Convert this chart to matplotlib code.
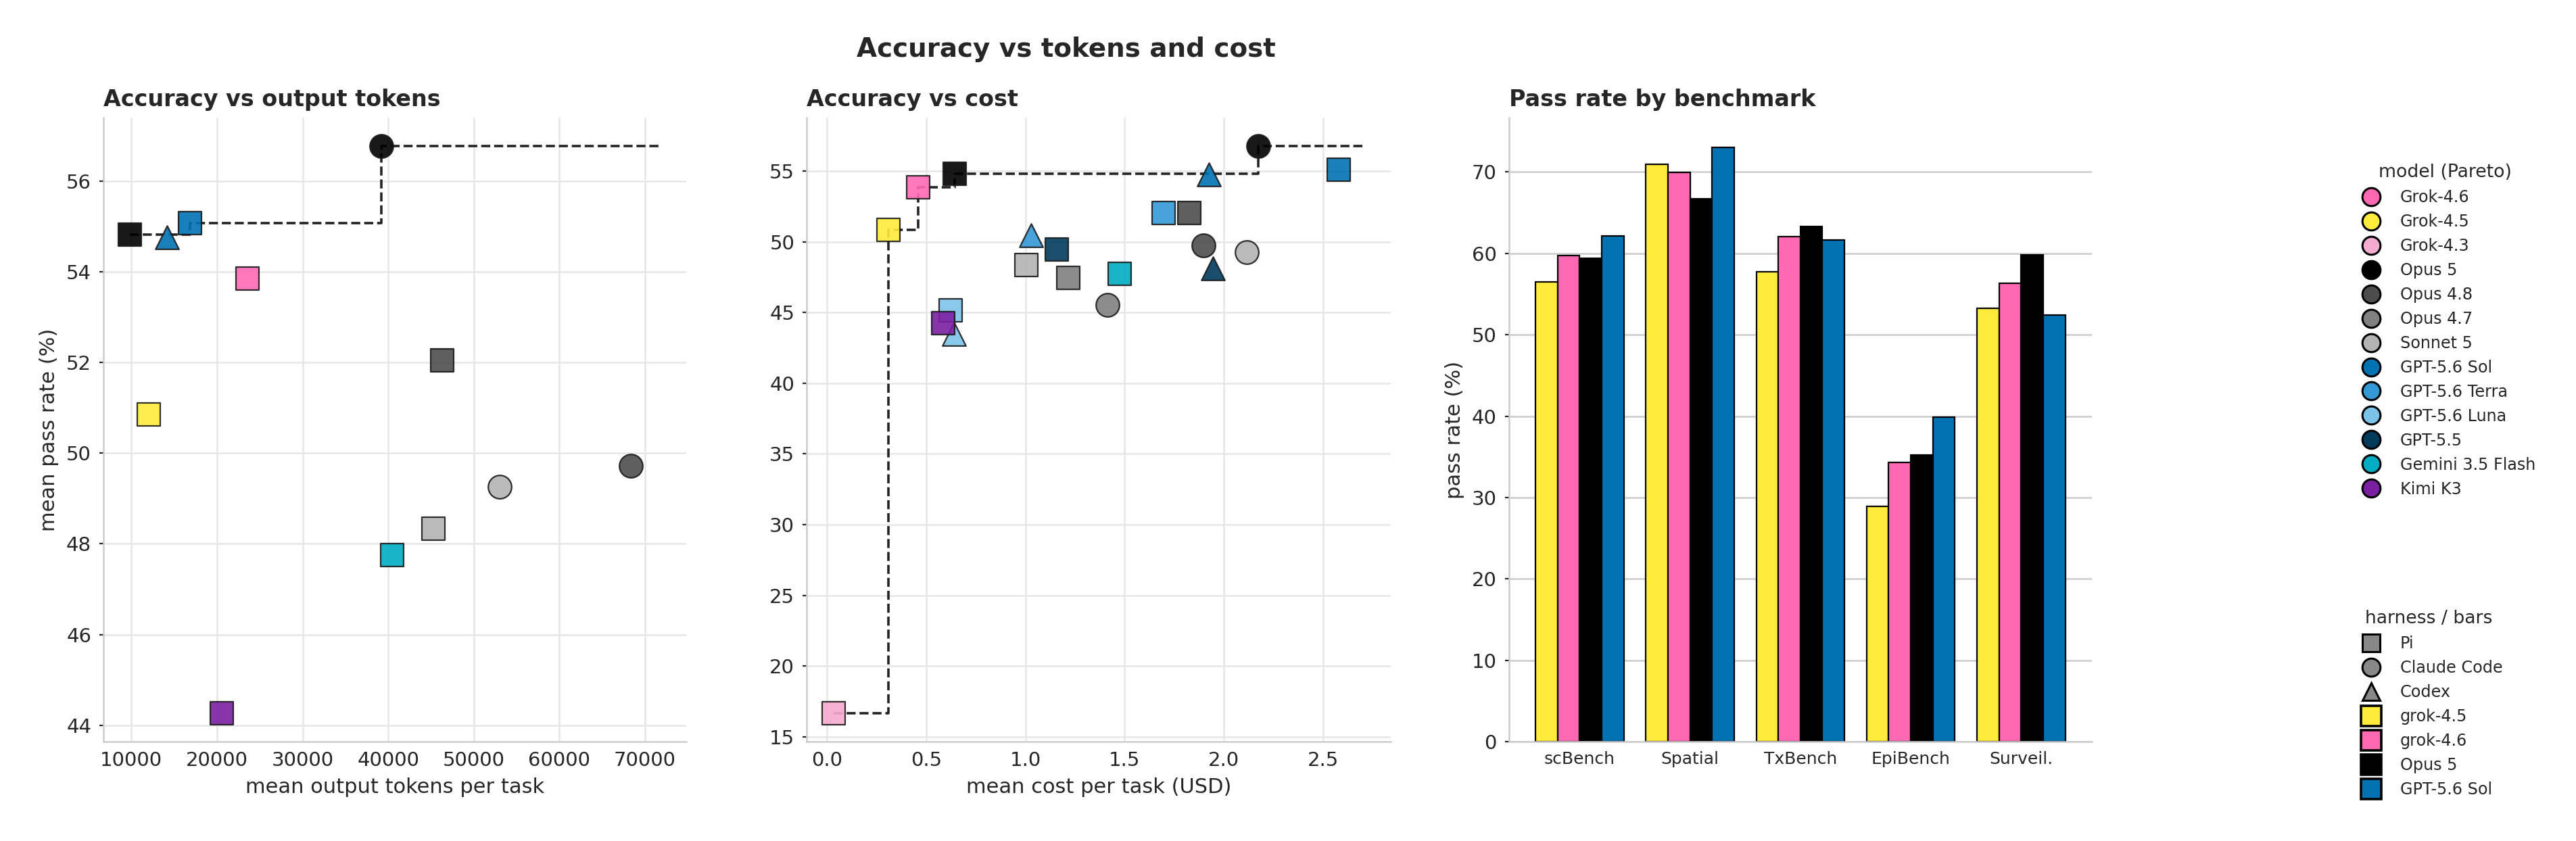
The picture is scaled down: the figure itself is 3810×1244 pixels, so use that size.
import numpy as np
import matplotlib
matplotlib.use("Agg")
import matplotlib.pyplot as plt
from matplotlib.lines import Line2D

# one scatter point per model x harness run
pt_model = ["Grok-4.3", "Grok-4.5", "Grok-4.6", "Opus 5", "Opus 5",
            "Opus 4.8", "Opus 4.8", "Opus 4.7", "Opus 4.7", "Sonnet 5", "Sonnet 5",
            "GPT-5.6 Sol", "GPT-5.6 Sol", "GPT-5.6 Terra", "GPT-5.6 Terra",
            "GPT-5.6 Luna", "GPT-5.6 Luna", "GPT-5.5", "GPT-5.5",
            "Gemini 3.5 Flash", "Kimi K3"]
pt_harness = ["Pi", "Pi", "Pi", "Pi", "Claude Code",
              "Pi", "Claude Code", "Pi", "Claude Code", "Pi", "Claude Code",
              "Pi", "Codex", "Pi", "Codex",
              "Pi", "Codex", "Pi", "Codex",
              "Pi", "Pi"]
# nan = no token count for that run
pt_tokens = [np.nan, 12050, 23530, 9850, 39160,
             46300, 68300, np.nan, np.nan, 45260, 53000,
             16840, 14160, np.nan, np.nan,
             np.nan, np.nan, np.nan, np.nan,
             40470, 20530]
pt_cost = [0.032, 0.308, 0.46, 0.645, 2.172,
           1.825, 1.896, 1.217, 1.413, 1.005, 2.115,
           2.58, 1.926, 1.696, 1.03,
           0.624, 0.64, 1.158, 1.944,
           1.474, 0.586]
pt_pass = [16.64, 50.85, 53.85, 54.81, 56.77,
           52.04, 49.72, 47.43, 45.51, 48.34, 49.26,
           55.07, 54.75, 52.04, 50.47,
           45.13, 43.49, 49.45, 48.13,
           47.75, 44.26]

model_names = ["Grok-4.6", "Grok-4.5", "Grok-4.3", "Opus 5", "Opus 4.8", "Opus 4.7",
               "Sonnet 5", "GPT-5.6 Sol", "GPT-5.6 Terra", "GPT-5.6 Luna", "GPT-5.5",
               "Gemini 3.5 Flash", "Kimi K3"]
model_colors = {"Grok-4.6": "#FF69B4", "Grok-4.5": "#FFEB3B", "Grok-4.3": "#F5AAD0",
                "Opus 5": "#000000", "Opus 4.8": "#4D4D4D", "Opus 4.7": "#808080",
                "Sonnet 5": "#B3B3B3", "GPT-5.6 Sol": "#0072B2", "GPT-5.6 Terra": "#3399D6",
                "GPT-5.6 Luna": "#7CC3EA", "GPT-5.5": "#003B5C",
                "Gemini 3.5 Flash": "#00ACC1", "Kimi K3": "#7B1FA2"}
harness_names = ["Pi", "Claude Code", "Codex"]
harness_markers = {"Pi": "s", "Claude Code": "o", "Codex": "^"}

bench_names = ["scBench", "Spatial", "TxBench", "EpiBench", "Surveil."]
bar_series = ["grok-4.5", "grok-4.6", "Opus 5", "GPT-5.6 Sol"]
bar_grok45 = [56.5, 70.9, 57.7, 28.9, 53.2]
bar_grok46 = [59.7, 69.9, 62.0, 34.3, 56.3]
bar_opus5 = [59.4, 66.7, 63.3, 35.2, 59.8]
bar_sol = [62.1, 73.0, 61.6, 39.9, 52.4]
bar_colors = ["#FFEB3B", "#FF69B4", "#000000", "#0072B2"]

tok_ticks = [10000, 20000, 30000, 40000, 50000, 60000, 70000]
cost_ticks = [0.0, 0.5, 1.0, 1.5, 2.0, 2.5]
cost_yticks = [15, 20, 25, 30, 35, 40, 45, 50, 55]
bar_yticks = [0, 10, 20, 30, 40, 50, 60, 70]

INK = "#262626"
plt.rcParams.update({
    "font.family": "DejaVu Sans",
    "text.color": INK,
    "axes.labelcolor": INK,
    "xtick.color": INK,
    "ytick.color": INK,
    "axes.edgecolor": "#cccccc",
    "axes.linewidth": 0.9,
    "xtick.major.size": 0,
    "ytick.major.size": 2.2,
    "ytick.major.width": 0.8,
    "ytick.major.pad": 4.3,
    "xtick.major.pad": 5,
    "xtick.labelsize": 10.5,
    "ytick.labelsize": 10.5,
    "axes.labelsize": 11,
})


def pareto(x, y):
    order = np.argsort(x)
    fx, fy = [], []
    best = -np.inf
    for i in order:
        if y[i] > best:
            fx.append(x[i])
            fy.append(y[i])
            best = y[i]
    fx.append(max(x) * 1.05)
    fy.append(best)
    return fx, fy


def scatter_panel(ax, xs, title, xlabel):
    xs = np.asarray(xs, dtype=float)
    ys = np.asarray(pt_pass, dtype=float)
    ok = ~np.isnan(xs)
    fx, fy = pareto(xs[ok], ys[ok])
    ax.plot(fx, fy, drawstyle="steps-post", ls="--", color="#222222", lw=1.3, zorder=2)
    for i in range(len(xs)):
        if not ok[i]:
            continue
        ax.scatter(xs[i], ys[i], marker=harness_markers[pt_harness[i]], s=155,
                   color=model_colors[pt_model[i]], edgecolors="#1a1a1a",
                   linewidths=0.8, alpha=0.9, zorder=3)
    ax.grid(True, color="#e6e6e6", lw=0.9)
    ax.set_axisbelow(True)
    for sp in ["top", "right"]:
        ax.spines[sp].set_visible(False)
    ax.set_title(title, loc="left", fontsize=12, fontweight="bold", color=INK)
    ax.set_xlabel(xlabel)


fig = plt.figure(figsize=(19.05, 6.22), dpi=200)
ax1 = fig.add_axes([0.0402, 0.1178, 0.2262, 0.7424])
ax2 = fig.add_axes([0.3132, 0.1178, 0.2268, 0.7424])
ax3 = fig.add_axes([0.5858, 0.1178, 0.2262, 0.7424])

scatter_panel(ax1, pt_tokens, "Accuracy vs output tokens", "mean output tokens per task")
ax1.set_ylabel("mean pass rate (%)")
ax1.set_xticks(tok_ticks)

scatter_panel(ax2, pt_cost, "Accuracy vs cost", "mean cost per task (USD)")
ax2.set_xticks(cost_ticks)
ax2.set_yticks(cost_yticks)

# grouped bars
x = np.arange(len(bench_names))
w = 0.2
for k, vals in enumerate([bar_grok45, bar_grok46, bar_opus5, bar_sol]):
    ax3.bar(x + (k - 1.5) * w, vals, width=w, color=bar_colors[k],
            edgecolor="black", linewidth=0.8, label=bar_series[k], zorder=2)
ax3.set_xticks(x)
ax3.set_xticklabels(bench_names, fontsize=9)
ax3.set_yticks(bar_yticks)
ax3.yaxis.grid(True, color="#cccccc", lw=0.9)
ax3.set_axisbelow(True)
for sp in ["top", "right"]:
    ax3.spines[sp].set_visible(False)
ax3.set_title("Pass rate by benchmark", loc="left", fontsize=12, fontweight="bold", color=INK)
ax3.set_ylabel("pass rate (%)")

fig.suptitle("Accuracy vs tokens and cost", x=0.414, y=0.941, va="center",
             fontsize=14, fontweight="bold", color=INK)

# legends
model_handles = [Line2D([], [], marker="o", ls="none", markersize=9.6,
                        markerfacecolor=model_colors[m], markeredgecolor="black",
                        markeredgewidth=1.1, label=m) for m in model_names]
fig.legend(handles=model_handles, title="model (Pareto)", loc="upper left",
           bbox_to_anchor=(0.9085, 0.8225), frameon=False, fontsize=8.6,
           title_fontsize=9.6)

harness_handles = [Line2D([], [], marker=harness_markers[h], ls="none", markersize=9.6,
                          markerfacecolor="#888888", markeredgecolor="black",
                          markeredgewidth=1.1, label=h) for h in harness_names]
harness_handles += [Line2D([], [], marker="s", ls="none", markersize=10.7,
                           markerfacecolor=bar_colors[k], markeredgecolor="black",
                           markeredgewidth=1.3, label=bar_series[k]) for k in range(len(bar_series))]
fig.legend(handles=harness_handles, title="harness / bars", loc="upper left",
           bbox_to_anchor=(0.9085, 0.292), frameon=False, fontsize=8.6,
           title_fontsize=9.6)

fig.savefig("out.png", dpi=200)
